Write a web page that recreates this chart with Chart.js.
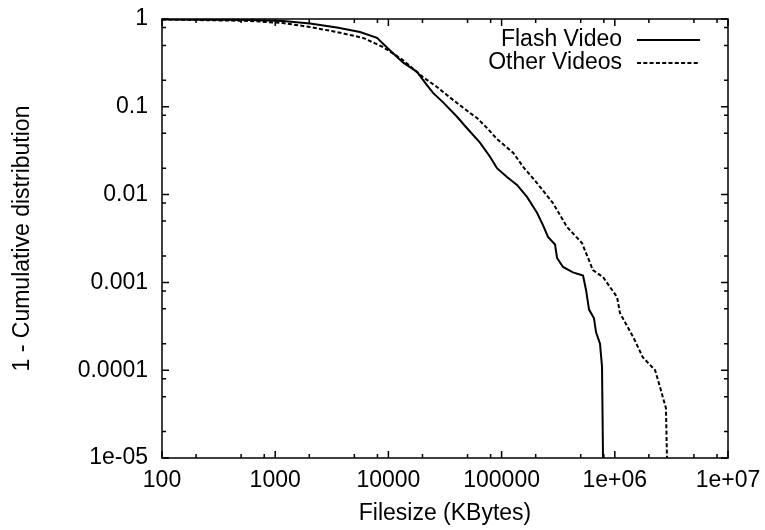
<!DOCTYPE html>
<html>
<head>
<meta charset="utf-8">
<script src="https://cdn.jsdelivr.net/npm/chart.js@4.4.1/dist/chart.umd.min.js"></script>
<style>
  html, body { margin: 0; padding: 0; background: #fff; }
  #wrap { width: 765px; height: 530px; }
</style>
</head>
<body>
<div id="wrap"><canvas id="cdfChart" width="765" height="530"></canvas></div>
<script>
// Flash Video: filesize (KBytes) and 1 - CDF
const flashSize = [100, 600, 1170, 2030, 3510, 5610, 7930, 10300, 13450, 17900, 21900, 24800, 30300, 40400, 49500,
    64400, 79000, 91000, 111600, 136800, 167600, 205500, 232000, 257000, 296500, 309000, 348700, 427000, 524000,
    557000, 592000, 655000, 683000, 740000, 771000, 787000];
const flashCcdf = [0.99, 0.975, 0.95, 0.89, 0.80, 0.71, 0.61, 0.44, 0.32, 0.25, 0.177, 0.144, 0.113, 0.077, 0.057,
    0.039, 0.027, 0.020, 0.0159, 0.0129, 0.0094, 0.0062, 0.0045, 0.0033, 0.0027, 0.0019, 0.0015, 0.0013, 0.0012,
    0.00082, 0.00049, 0.00039, 0.00027, 0.00020, 0.00011, 0.00001];

// Other Videos
const otherSize = [100, 600, 1170, 2030, 3510, 5970, 8950, 13450, 20200, 26900, 37200, 52600, 60700, 74300, 91000,
    127000, 155700, 205500, 284500, 378000, 513000, 641000, 787000, 1047000, 1110000, 1450000, 1770000, 2270000,
    2510000, 2830000, 2890000];
const otherCcdf = [0.99, 0.95, 0.90, 0.81, 0.71, 0.61, 0.48, 0.34, 0.218, 0.168, 0.12, 0.085, 0.0745, 0.0574, 0.043,
    0.0298, 0.0206, 0.01355, 0.0080, 0.00428, 0.00281, 0.00138, 0.00115, 0.00068, 0.00045, 0.00024, 0.00014, 0.00010,
    0.000064, 0.000037, 0.00001];

const xTickValues = [100, 1000, 10000, 100000, 1000000, 10000000];
const xTickLabels = ["100", "1000", "10000", "100000", "1e+06", "1e+07"];
const yTickValues = [1, 0.1, 0.01, 0.001, 0.0001, 0.00001];
const yTickLabels = ["1", "0.1", "0.01", "0.001", "0.0001", "1e-05"];
const minorSteps = [2, 5, 8];

const FONT = "'Liberation Sans', Arial, sans-serif";

function toPoints(xs, ys) {
    return xs.map((x, i) => ({ x: x, y: ys[i] }));
}

// gnuplot-like frame with inward ticks on all four sides, plus right-aligned key
const framePlugin = {
    id: "frame",
    afterDatasetsDraw(chart) {
        const ctx = chart.ctx;
        const a = chart.chartArea;
        const xs = chart.scales.x;
        const ys = chart.scales.y;
        ctx.save();
        ctx.strokeStyle = "#000";
        ctx.lineWidth = 1.5;
        ctx.strokeRect(a.left, a.top, a.right - a.left, a.bottom - a.top);

        const major = 7, minor = 4;
        ctx.beginPath();
        xTickValues.forEach((v, i) => {
            const px = xs.getPixelForValue(v);
            ctx.moveTo(px, a.bottom); ctx.lineTo(px, a.bottom - major);
            ctx.moveTo(px, a.top); ctx.lineTo(px, a.top + major);
            if (i < xTickValues.length - 1) {
                minorSteps.forEach(m => {
                    const q = xs.getPixelForValue(v * m);
                    ctx.moveTo(q, a.bottom); ctx.lineTo(q, a.bottom - minor);
                    ctx.moveTo(q, a.top); ctx.lineTo(q, a.top + minor);
                });
            }
        });
        yTickValues.forEach((v, i) => {
            const py = ys.getPixelForValue(v);
            ctx.moveTo(a.left, py); ctx.lineTo(a.left + major, py);
            ctx.moveTo(a.right, py); ctx.lineTo(a.right - major, py);
            if (i < yTickValues.length - 1) {
                minorSteps.forEach(m => {
                    const q = ys.getPixelForValue(v / 10 * m);
                    ctx.moveTo(a.left, q); ctx.lineTo(a.left + minor, q);
                    ctx.moveTo(a.right, q); ctx.lineTo(a.right - minor, q);
                });
            }
        });
        ctx.stroke();

        // key
        ctx.font = "23px " + FONT;
        ctx.fillStyle = "#000";
        ctx.textAlign = "right";
        ctx.textBaseline = "middle";
        chart.data.datasets.forEach((ds, i) => {
            const y = a.top + 21 + i * 23;
            ctx.fillText(ds.label, a.right - 106, y);
            ctx.beginPath();
            ctx.lineWidth = ds.borderWidth;
            ctx.setLineDash(ds.borderDash || []);
            ctx.moveTo(a.right - 91, y);
            ctx.lineTo(a.right - 28, y);
            ctx.stroke();
        });
        ctx.restore();
    }
};

const ctx = document.getElementById("cdfChart").getContext("2d");
new Chart(ctx, {
    type: "line",
    data: {
        datasets: [{
            label: "Flash Video",
            data: toPoints(flashSize, flashCcdf),
            borderColor: "#000",
            borderWidth: 2,
            pointRadius: 0,
            tension: 0
        }, {
            label: "Other Videos",
            data: toPoints(otherSize, otherCcdf),
            borderColor: "#000",
            borderWidth: 2,
            borderDash: [4, 2.3],
            pointRadius: 0,
            tension: 0
        }]
    },
    options: {
        responsive: false,
        animation: false,
        layout: { padding: { top: 19, right: 37, left: 0, bottom: 0 } },
        plugins: {
            legend: { display: false },
            tooltip: { enabled: false }
        },
        scales: {
            x: {
                type: "logarithmic",
                min: 100,
                max: 10000000,
                border: { display: false },
                grid: { display: false, drawTicks: false },
                afterBuildTicks: scale => { scale.ticks = xTickValues.map(v => ({ value: v })); },
                afterFit: scale => {
                    scale.height = 72;
                    scale.paddingLeft = 0;
                    scale.paddingRight = 0;
                },
                ticks: {
                    autoSkip: false,
                    maxRotation: 0,
                    padding: 9,
                    color: "#000",
                    font: { family: FONT, size: 23 },
                    callback: (v, i) => xTickLabels[i]
                },
                title: {
                    display: true,
                    text: "Filesize (KBytes)",
                    color: "#000",
                    font: { family: FONT, size: 23 },
                    padding: { top: 0, bottom: 3 }
                }
            },
            y: {
                type: "logarithmic",
                min: 0.00001,
                max: 1,
                border: { display: false },
                grid: { display: false, drawTicks: false },
                afterBuildTicks: scale => { scale.ticks = yTickValues.map(v => ({ value: v })); },
                afterFit: scale => {
                    scale.width = 162;
                    scale.paddingTop = 0;
                    scale.paddingBottom = 0;
                },
                ticks: {
                    autoSkip: false,
                    padding: 14,
                    color: "#000",
                    font: { family: FONT, size: 23 },
                    callback: (v, i) => yTickLabels[i]
                },
                title: {
                    display: true,
                    text: "1 - Cumulative distribution",
                    color: "#000",
                    font: { family: FONT, size: 23 },
                    padding: { top: 9, bottom: 0 }
                }
            }
        }
    },
    plugins: [framePlugin]
});
</script>
</body>
</html>
